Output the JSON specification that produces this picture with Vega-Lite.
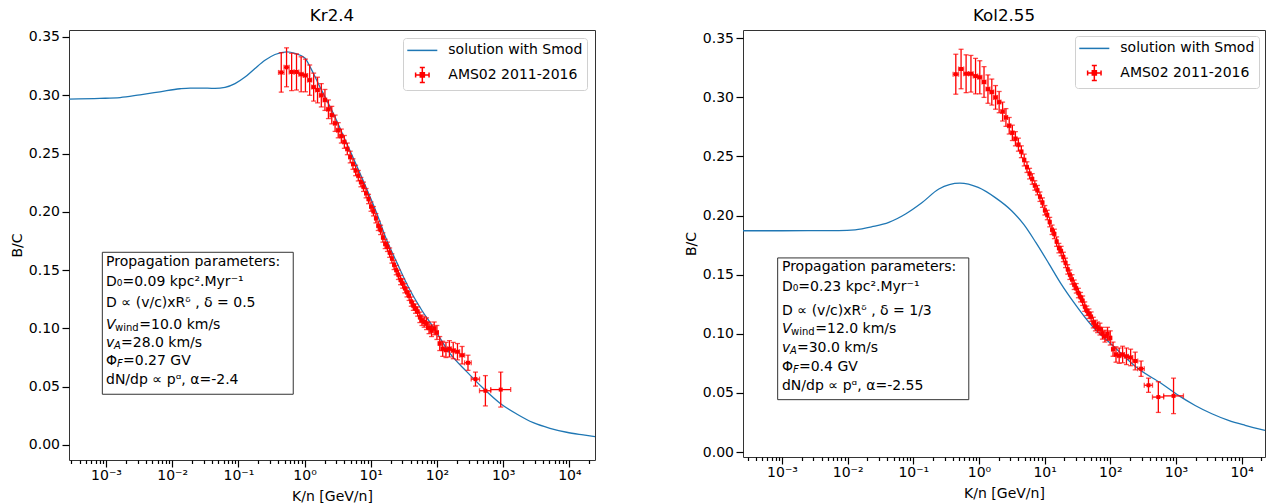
{
  "$schema": "https://vega.github.io/schema/vega-lite/v6.json",
  "padding": {"left": 9, "top": 7, "right": 0, "bottom": 0},
  "spacing": 84,
  "resolve": {"scale": {"x": "independent", "y": "independent", "color": "independent"}, "legend": {"color": "independent"}, "axis": {"x": "independent", "y": "independent"}},
  "config": {
    "font": "DejaVu Sans",
    "view": {"stroke": "#333333", "strokeWidth": 1},
    "axis": {"labelFont": "DejaVu Sans", "labelFontSize": 14, "labelColor": "#000000", "titleFont": "DejaVu Sans", "titleFontSize": 14, "titleFontWeight": "normal", "titleColor": "#000000", "tickColor": "#000000", "tickWidth": 1.2, "domain": false, "grid": false},
    "title": {"font": "DejaVu Sans", "fontSize": 16.7, "fontWeight": "normal", "color": "#000000", "anchor": "middle", "offset": 5.7, "baseline": "alphabetic"},
    "text": {"font": "DejaVu Sans", "color": "#000000"}
  },
  "datasets": {
    "ams": [
      {"E":0.444,"Elo":0.404,"Ehi":0.489,"bc":0.3196,"lo":0.3027,"hi":0.3365},
      {"E":0.534,"Elo":0.489,"Ehi":0.585,"bc":0.324,"lo":0.3073,"hi":0.3407},
      {"E":0.637,"Elo":0.585,"Ehi":0.694,"bc":0.320,"lo":0.304,"hi":0.336},
      {"E":0.755,"Elo":0.694,"Ehi":0.818,"bc":0.320,"lo":0.3045,"hi":0.3355},
      {"E":0.887,"Elo":0.818,"Ehi":0.956,"bc":0.318,"lo":0.303,"hi":0.333},
      {"E":1.030,"Elo":0.956,"Ehi":1.110,"bc":0.317,"lo":0.303,"hi":0.331},
      {"E":1.194,"Elo":1.110,"Ehi":1.280,"bc":0.313,"lo":0.300,"hi":0.326},
      {"E":1.371,"Elo":1.280,"Ehi":1.467,"bc":0.307,"lo":0.295,"hi":0.319},
      {"E":1.569,"Elo":1.467,"Ehi":1.676,"bc":0.3045,"lo":0.2935,"hi":0.3155},
      {"E":1.789,"Elo":1.676,"Ehi":1.906,"bc":0.300,"lo":0.290,"hi":0.310},
      {"E":2.029,"Elo":1.906,"Ehi":2.158,"bc":0.296,"lo":0.287,"hi":0.305},
      {"E":2.291,"Elo":2.158,"Ehi":2.430,"bc":0.288,"lo":0.280,"hi":0.296},
      {"E":2.575,"Elo":2.430,"Ehi":2.729,"bc":0.283,"lo":0.2755,"hi":0.2905},
      {"E":2.889,"Elo":2.729,"Ehi":3.054,"bc":0.276,"lo":0.269,"hi":0.283},
      {"E":3.224,"Elo":3.054,"Ehi":3.405,"bc":0.270,"lo":0.2635,"hi":0.2765},
      {"E":3.590,"Elo":3.405,"Ehi":3.786,"bc":0.265,"lo":0.259,"hi":0.271},
      {"E":3.987,"Elo":3.786,"Ehi":4.198,"bc":0.260,"lo":0.2545,"hi":0.2655},
      {"E":4.420,"Elo":4.198,"Ehi":4.641,"bc":0.254,"lo":0.249,"hi":0.259},
      {"E":4.888,"Elo":4.641,"Ehi":5.135,"bc":0.247,"lo":0.242,"hi":0.252},
      {"E":5.382,"Elo":5.135,"Ehi":5.629,"bc":0.241,"lo":0.2365,"hi":0.2455},
      {"E":5.902,"Elo":5.629,"Ehi":6.174,"bc":0.2355,"lo":0.231,"hi":0.240},
      {"E":6.472,"Elo":6.174,"Ehi":6.769,"bc":0.231,"lo":0.2265,"hi":0.2355},
      {"E":7.092,"Elo":6.769,"Ehi":7.415,"bc":0.2255,"lo":0.2215,"hi":0.2295},
      {"E":7.763,"Elo":7.415,"Ehi":8.111,"bc":0.2215,"lo":0.2175,"hi":0.2255},
      {"E":8.484,"Elo":8.111,"Ehi":8.857,"bc":0.216,"lo":0.212,"hi":0.220},
      {"E":9.255,"Elo":8.857,"Ehi":9.654,"bc":0.211,"lo":0.207,"hi":0.215},
      {"E":10.08,"Elo":9.654,"Ehi":10.50,"bc":0.2045,"lo":0.2005,"hi":0.2085},
      {"E":10.97,"Elo":10.50,"Ehi":11.45,"bc":0.2005,"lo":0.1965,"hi":0.2045},
      {"E":11.95,"Elo":11.45,"Ehi":12.44,"bc":0.1945,"lo":0.1905,"hi":0.1985},
      {"E":12.97,"Elo":12.44,"Ehi":13.49,"bc":0.188,"lo":0.184,"hi":0.192},
      {"E":14.07,"Elo":13.49,"Ehi":14.64,"bc":0.1845,"lo":0.1805,"hi":0.1885},
      {"E":15.24,"Elo":14.64,"Ehi":15.84,"bc":0.178,"lo":0.174,"hi":0.182},
      {"E":16.49,"Elo":15.84,"Ehi":17.14,"bc":0.1725,"lo":0.1685,"hi":0.1765},
      {"E":17.84,"Elo":17.14,"Ehi":18.53,"bc":0.170,"lo":0.166,"hi":0.174},
      {"E":19.28,"Elo":18.53,"Ehi":20.03,"bc":0.165,"lo":0.161,"hi":0.169},
      {"E":20.83,"Elo":20.03,"Ehi":21.63,"bc":0.160,"lo":0.156,"hi":0.164},
      {"E":22.48,"Elo":21.63,"Ehi":23.33,"bc":0.1545,"lo":0.1505,"hi":0.1585},
      {"E":24.23,"Elo":23.33,"Ehi":25.18,"bc":0.150,"lo":0.146,"hi":0.154},
      {"E":26.13,"Elo":25.18,"Ehi":27.13,"bc":0.146,"lo":0.142,"hi":0.150},
      {"E":28.18,"Elo":27.13,"Ehi":29.23,"bc":0.1415,"lo":0.1375,"hi":0.1455},
      {"E":30.33,"Elo":29.23,"Ehi":31.48,"bc":0.1385,"lo":0.1345,"hi":0.1425},
      {"E":32.68,"Elo":31.48,"Ehi":33.92,"bc":0.1345,"lo":0.1305,"hi":0.1385},
      {"E":35.23,"Elo":33.92,"Ehi":36.52,"bc":0.131,"lo":0.127,"hi":0.135},
      {"E":37.93,"Elo":36.52,"Ehi":39.32,"bc":0.128,"lo":0.124,"hi":0.132},
      {"E":40.82,"Elo":39.32,"Ehi":42.32,"bc":0.123,"lo":0.119,"hi":0.127},
      {"E":43.92,"Elo":42.32,"Ehi":45.57,"bc":0.1195,"lo":0.1155,"hi":0.1235},
      {"E":47.32,"Elo":45.57,"Ehi":49.07,"bc":0.117,"lo":0.113,"hi":0.121},
      {"E":51.07,"Elo":49.07,"Ehi":53.07,"bc":0.1145,"lo":0.1105,"hi":0.1185},
      {"E":55.07,"Elo":53.07,"Ehi":57.07,"bc":0.1095,"lo":0.105,"hi":0.114},
      {"E":59.32,"Elo":57.07,"Ehi":61.57,"bc":0.107,"lo":0.1025,"hi":0.1115},
      {"E":64.07,"Elo":61.57,"Ehi":66.57,"bc":0.1055,"lo":0.101,"hi":0.110},
      {"E":69.57,"Elo":66.57,"Ehi":72.57,"bc":0.104,"lo":0.099,"hi":0.109},
      {"E":75.82,"Elo":72.57,"Ehi":79.07,"bc":0.1005,"lo":0.0955,"hi":0.1055},
      {"E":82.82,"Elo":79.07,"Ehi":86.57,"bc":0.098,"lo":0.093,"hi":0.103},
      {"E":90.82,"Elo":86.57,"Ehi":95.07,"bc":0.100,"lo":0.0945,"hi":0.1055},
      {"E":99.82,"Elo":95.07,"Ehi":104.6,"bc":0.0965,"lo":0.0905,"hi":0.1025},
      {"E":110.1,"Elo":104.6,"Ehi":115.6,"bc":0.087,"lo":0.081,"hi":0.093},
      {"E":122.1,"Elo":115.6,"Ehi":128.6,"bc":0.0825,"lo":0.076,"hi":0.089},
      {"E":136.6,"Elo":128.6,"Ehi":144.6,"bc":0.0815,"lo":0.075,"hi":0.088},
      {"E":154.1,"Elo":144.6,"Ehi":164.1,"bc":0.0825,"lo":0.0755,"hi":0.0895},
      {"E":176.1,"Elo":164.1,"Ehi":188.6,"bc":0.081,"lo":0.074,"hi":0.088},
      {"E":204.1,"Elo":188.6,"Ehi":219.6,"bc":0.080,"lo":0.073,"hi":0.087},
      {"E":239.6,"Elo":219.6,"Ehi":261.6,"bc":0.077,"lo":0.0695,"hi":0.0845},
      {"E":294.1,"Elo":261.6,"Ehi":329.1,"bc":0.0705,"lo":0.064,"hi":0.077},
      {"E":381.6,"Elo":329.1,"Ehi":439.1,"bc":0.0565,"lo":0.0505,"hi":0.0625},
      {"E":539,"Elo":439.1,"Ehi":649.1,"bc":0.0465,"lo":0.0335,"hi":0.0595},
      {"E":919,"Elo":649.1,"Ehi":1299,"bc":0.0475,"lo":0.0325,"hi":0.0625}
    ],
    "kr": [
      {"E":0.000276,"bc":0.2967},{"E":0.00081,"bc":0.2973},{"E":0.00163,"bc":0.298},{"E":0.00327,"bc":0.3004},
      {"E":0.00655,"bc":0.303},{"E":0.0131,"bc":0.3056},{"E":0.0186,"bc":0.3062},{"E":0.0263,"bc":0.3062},
      {"E":0.0443,"bc":0.3059},{"E":0.0627,"bc":0.3068},{"E":0.0889,"bc":0.310},{"E":0.126,"bc":0.3156},
      {"E":0.178,"bc":0.323},{"E":0.252,"bc":0.330},{"E":0.357,"bc":0.335},{"E":0.542,"bc":0.3373},
      {"E":0.716,"bc":0.336},{"E":1.01,"bc":0.332},{"E":1.21,"bc":0.3244},{"E":1.71,"bc":0.307},
      {"E":2.71,"bc":0.2845},{"E":4.33,"bc":0.2587},{"E":6.87,"bc":0.233},{"E":12.3,"bc":0.1987},
      {"E":17.4,"bc":0.1758},{"E":25,"bc":0.156},{"E":39.1,"bc":0.1329},{"E":58.7,"bc":0.1158},
      {"E":87.9,"bc":0.101},{"E":157,"bc":0.0786},{"E":281,"bc":0.0629},{"E":500,"bc":0.0486},
      {"E":895,"bc":0.0358},{"E":1600,"bc":0.0266},{"E":2850,"bc":0.0191},{"E":5090,"bc":0.0143},
      {"E":9100,"bc":0.0109},{"E":16200,"bc":0.0086},{"E":24400,"bc":0.0071}
    ],
    "kol": [
      {"E":0.000255,"bc":0.1872},{"E":0.001,"bc":0.1872},{"E":0.00733,"bc":0.1873},{"E":0.013,"bc":0.188},
      {"E":0.0235,"bc":0.1906},{"E":0.0424,"bc":0.1943},{"E":0.0762,"bc":0.2014},{"E":0.1365,"bc":0.2111},
      {"E":0.245,"bc":0.2225},{"E":0.512,"bc":0.2275},{"E":0.973,"bc":0.2238},{"E":1.75,"bc":0.2154},
      {"E":3.14,"bc":0.2041},{"E":4.84,"bc":0.1923},{"E":7.38,"bc":0.1771},{"E":11.6,"bc":0.1594},
      {"E":17.7,"bc":0.1425},{"E":28,"bc":0.1264},{"E":52.1,"bc":0.107},{"E":105,"bc":0.091},
      {"E":267,"bc":0.0704},{"E":608,"bc":0.0578},{"E":1090,"bc":0.0479},{"E":1960,"bc":0.0394},
      {"E":3520,"bc":0.0324},{"E":6300,"bc":0.0268},{"E":11300,"bc":0.0226},{"E":22700,"bc":0.0183}
    ]
  },
  "hconcat": [
    {
      "width": 526, "height": 430,
      "title": {"text": "Kr2.4"},
      "layer": [
        {"data": {"values": [{"x1": 0.00088, "x2": 0.674, "y1": 0.0435, "y2": 0.1653}]},
         "mark": {"type": "rect", "fill": "#ffffff", "stroke": "#333333", "strokeWidth": 1},
         "encoding": {
           "x": {"field": "x1", "type": "quantitative", "scale": {"type": "log", "domain": [0.000276, 24400], "nice": false},
                 "axis": {"title": "K/n [GeV/n]", "values": [0.0003,0.0004,0.0005,0.0006,0.0007,0.0008,0.0009,0.001,0.002,0.003,0.004,0.005,0.006,0.007,0.008,0.009,0.01,0.02,0.03,0.04,0.05,0.06,0.07,0.08,0.09,0.1,0.2,0.3,0.4,0.5,0.6,0.7,0.8,0.9,1,2,3,4,5,6,7,8,9,10,20,30,40,50,60,70,80,90,100,200,300,400,500,600,700,800,900,1000,2000,3000,4000,5000,6000,7000,8000,9000,10000,20000],
                          "labelExpr": "abs(log(datum.value)/LN10-round(log(datum.value)/LN10))<0.001 ? ['10⁻⁴','10⁻³','10⁻²','10⁻¹','10⁰','10¹','10²','10³','10⁴'][round(log(datum.value)/LN10)+4] : ''",
                          "tickSize": {"condition": {"test": "abs(log(datum.value)/LN10-round(log(datum.value)/LN10))<0.001", "value": 7}, "value": 3.5},
                          "labelPadding": 1, "titlePadding": 7, "labelFlush": false, "labelOverlap": false, "labelBound": false}},
           "x2": {"field": "x2"},
           "y": {"field": "y1", "type": "quantitative", "scale": {"domain": [-0.0129, 0.356], "nice": false, "zero": false},
                 "axis": {"title": "B/C", "values": [0,0.05,0.1,0.15,0.2,0.25,0.3,0.35], "format": ".2f", "tickSize": 7, "labelPadding": 2.5, "titlePadding": 4, "labelOverlap": false}},
           "y2": {"field": "y2"}}},
        {"data": {"name": "kr"},
         "mark": {"type": "line", "strokeWidth": 1.3, "interpolate": "monotone"},
         "encoding": {
           "x": {"field": "E", "type": "quantitative"},
           "y": {"field": "bc", "type": "quantitative"},
           "color": {"datum": "solution with Smod", "scale": {"domain": ["solution with Smod", "AMS02 2011-2016"], "range": ["#1f77b4", "#ff0000"]},
                     "legend": {"title": null, "orient": "top-right", "offset": 7.7, "padding": 4.4, "rowPadding": 6.5, "symbolSize": 196, "labelOffset": 24.9,
                                "labelFont": "DejaVu Sans", "labelFontSize": 14, "labelColor": "#000000", "labelLimit": 300,
                                "strokeColor": "#d0d0d0", "fillColor": "#ffffff", "cornerRadius": 3, "symbolStrokeWidth": 1.5,
                                "encode": {"symbols": {"update": {
                                  "shape": {"signal": "datum.value === 'solution with Smod' ? 'M-1.16,0H3.13' : 'M0.03,0H1.95M0.99,-1.07V1.07M0.03,-0.36V0.36M1.95,-0.36V0.36M0.63,-1.07H1.35M0.63,1.07H1.35M0.7,-0.29H1.28V0.29H0.7Z'"},
                                  "stroke": {"signal": "datum.value === 'solution with Smod' ? '#1f77b4' : '#ff0000'"},
                                  "fill": {"signal": "datum.value === 'solution with Smod' ? 'transparent' : '#ff0000'"},
                                  "strokeWidth": {"value": 1.5}, "opacity": {"value": 1}, "fillOpacity": {"value": 1}, "strokeOpacity": {"value": 1}}}}}}}},
        {"data": {"name": "ams"}, "mark": {"type": "rule", "color": "#ff0000", "strokeWidth": 1.3},
         "encoding": {"x": {"field": "E", "type": "quantitative"}, "y": {"field": "lo", "type": "quantitative"}, "y2": {"field": "hi"}}},
        {"data": {"name": "ams"}, "mark": {"type": "rule", "color": "#ff0000", "strokeWidth": 1.3},
         "encoding": {"x": {"field": "Elo", "type": "quantitative"}, "x2": {"field": "Ehi"}, "y": {"field": "bc", "type": "quantitative"}}},
        {"data": {"name": "ams"}, "mark": {"type": "tick", "color": "#ff0000", "orient": "horizontal", "size": 5, "thickness": 1.3},
         "encoding": {"x": {"field": "E", "type": "quantitative"}, "y": {"field": "lo", "type": "quantitative"}}},
        {"data": {"name": "ams"}, "mark": {"type": "tick", "color": "#ff0000", "orient": "horizontal", "size": 5, "thickness": 1.3},
         "encoding": {"x": {"field": "E", "type": "quantitative"}, "y": {"field": "hi", "type": "quantitative"}}},
        {"data": {"name": "ams"}, "mark": {"type": "tick", "color": "#ff0000", "orient": "vertical", "size": 5, "thickness": 1.3},
         "encoding": {"x": {"field": "Elo", "type": "quantitative"}, "y": {"field": "bc", "type": "quantitative"}}},
        {"data": {"name": "ams"}, "mark": {"type": "tick", "color": "#ff0000", "orient": "vertical", "size": 5, "thickness": 1.3},
         "encoding": {"x": {"field": "Ehi", "type": "quantitative"}, "y": {"field": "bc", "type": "quantitative"}}},
        {"data": {"name": "ams"}, "mark": {"type": "point", "shape": "square", "filled": true, "size": 16, "opacity": 1},
         "encoding": {"x": {"field": "E", "type": "quantitative"}, "y": {"field": "bc", "type": "quantitative"},
                      "color": {"datum": "AMS02 2011-2016", "legend": null}}},
        {"data": {"values": [
            {"x": 0.001, "y": 0.1572, "t": "Propagation parameters:"},
            {"x": 0.001, "y": 0.1401, "t": "D₀=0.09 kpc².Myr⁻¹"},
            {"x": 0.001, "y": 0.1215, "t": "D ∝ (v/c)xRᵟ , δ = 0.5"},
            {"x": 0.001, "y": 0.0720, "t": "Φ"},
            {"x": 0.001, "y": 0.0557, "t": "dN/dp ∝ pᵅ, α=-2.4"}]},
         "mark": {"type": "text", "align": "left", "baseline": "middle", "fontSize": 14},
         "encoding": {"x": {"field": "x", "type": "quantitative"}, "y": {"field": "y", "type": "quantitative"}, "text": {"field": "t"}}},
        {"data": {"values": [{"x": 0.001, "y": 0.1029, "t": "V"}, {"x": 0.001, "y": 0.0877, "t": "v"}]},
         "mark": {"type": "text", "align": "left", "baseline": "middle", "fontSize": 14, "fontStyle": "italic"},
         "encoding": {"x": {"field": "x", "type": "quantitative"}, "y": {"field": "y", "type": "quantitative"}, "text": {"field": "t"}}},
        {"data": {"values": [{"x": 0.001, "y": 0.1029, "t": "wind"}]},
         "mark": {"type": "text", "align": "left", "baseline": "middle", "fontSize": 10, "dx": 9, "dy": 3},
         "encoding": {"x": {"field": "x", "type": "quantitative"}, "y": {"field": "y", "type": "quantitative"}, "text": {"field": "t"}}},
        {"data": {"values": [{"x": 0.001, "y": 0.0877, "t": "A"}]},
         "mark": {"type": "text", "align": "left", "baseline": "middle", "fontSize": 10, "fontStyle": "italic", "dx": 8, "dy": 3},
         "encoding": {"x": {"field": "x", "type": "quantitative"}, "y": {"field": "y", "type": "quantitative"}, "text": {"field": "t"}}},
        {"data": {"values": [{"x": 0.001, "y": 0.0720, "t": "F"}]},
         "mark": {"type": "text", "align": "left", "baseline": "middle", "fontSize": 10, "fontStyle": "italic", "dx": 11, "dy": 3},
         "encoding": {"x": {"field": "x", "type": "quantitative"}, "y": {"field": "y", "type": "quantitative"}, "text": {"field": "t"}}},
        {"data": {"values": [{"x": 0.001, "y": 0.1029, "t": "=10.0 km/s"}]},
         "mark": {"type": "text", "align": "left", "baseline": "middle", "fontSize": 14, "dx": 33.3},
         "encoding": {"x": {"field": "x", "type": "quantitative"}, "y": {"field": "y", "type": "quantitative"}, "text": {"field": "t"}}},
        {"data": {"values": [{"x": 0.001, "y": 0.0877, "t": "=28.0 km/s"}]},
         "mark": {"type": "text", "align": "left", "baseline": "middle", "fontSize": 14, "dx": 15},
         "encoding": {"x": {"field": "x", "type": "quantitative"}, "y": {"field": "y", "type": "quantitative"}, "text": {"field": "t"}}},
        {"data": {"values": [{"x": 0.001, "y": 0.0720, "t": "=0.27 GV"}]},
         "mark": {"type": "text", "align": "left", "baseline": "middle", "fontSize": 14, "dx": 17},
         "encoding": {"x": {"field": "x", "type": "quantitative"}, "y": {"field": "y", "type": "quantitative"}, "text": {"field": "t"}}}
      ]
    },
    {
      "width": 522, "height": 427,
      "title": {"text": "Kol2.55"},
      "layer": [
        {"data": {"values": [{"x1": 0.00086, "x2": 0.70, "y1": 0.0443, "y2": 0.1642}]},
         "mark": {"type": "rect", "fill": "#ffffff", "stroke": "#333333", "strokeWidth": 1},
         "encoding": {
           "x": {"field": "x1", "type": "quantitative", "scale": {"type": "log", "domain": [0.000255, 22700], "nice": false},
                 "axis": {"title": "K/n [GeV/n]", "values": [0.0003,0.0004,0.0005,0.0006,0.0007,0.0008,0.0009,0.001,0.002,0.003,0.004,0.005,0.006,0.007,0.008,0.009,0.01,0.02,0.03,0.04,0.05,0.06,0.07,0.08,0.09,0.1,0.2,0.3,0.4,0.5,0.6,0.7,0.8,0.9,1,2,3,4,5,6,7,8,9,10,20,30,40,50,60,70,80,90,100,200,300,400,500,600,700,800,900,1000,2000,3000,4000,5000,6000,7000,8000,9000,10000,20000],
                          "labelExpr": "abs(log(datum.value)/LN10-round(log(datum.value)/LN10))<0.001 ? ['10⁻⁴','10⁻³','10⁻²','10⁻¹','10⁰','10¹','10²','10³','10⁴'][round(log(datum.value)/LN10)+4] : ''",
                          "tickSize": {"condition": {"test": "abs(log(datum.value)/LN10-round(log(datum.value)/LN10))<0.001", "value": 7}, "value": 3.5},
                          "labelPadding": 1, "titlePadding": 7, "labelFlush": false, "labelOverlap": false, "labelBound": false}},
           "x2": {"field": "x2"},
           "y": {"field": "y1", "type": "quantitative", "scale": {"domain": [-0.0042, 0.357], "nice": false, "zero": false},
                 "axis": {"title": "B/C", "values": [0,0.05,0.1,0.15,0.2,0.25,0.3,0.35], "format": ".2f", "tickSize": 7, "labelPadding": 2.5, "titlePadding": 4, "labelOverlap": false}},
           "y2": {"field": "y2"}}},
        {"data": {"name": "kol"},
         "mark": {"type": "line", "strokeWidth": 1.3, "interpolate": "monotone"},
         "encoding": {
           "x": {"field": "E", "type": "quantitative"},
           "y": {"field": "bc", "type": "quantitative"},
           "color": {"datum": "solution with Smod", "scale": {"domain": ["solution with Smod", "AMS02 2011-2016"], "range": ["#1f77b4", "#ff0000"]},
                     "legend": {"title": null, "orient": "top-right", "offset": 6, "padding": 4.4, "rowPadding": 6.5, "symbolSize": 196, "labelOffset": 24.9,
                                "labelFont": "DejaVu Sans", "labelFontSize": 14, "labelColor": "#000000", "labelLimit": 300,
                                "strokeColor": "#d0d0d0", "fillColor": "#ffffff", "cornerRadius": 3, "symbolStrokeWidth": 1.5,
                                "encode": {"symbols": {"update": {
                                  "shape": {"signal": "datum.value === 'solution with Smod' ? 'M-1.16,0H3.13' : 'M0.03,0H1.95M0.99,-1.07V1.07M0.03,-0.36V0.36M1.95,-0.36V0.36M0.63,-1.07H1.35M0.63,1.07H1.35M0.7,-0.29H1.28V0.29H0.7Z'"},
                                  "stroke": {"signal": "datum.value === 'solution with Smod' ? '#1f77b4' : '#ff0000'"},
                                  "fill": {"signal": "datum.value === 'solution with Smod' ? 'transparent' : '#ff0000'"},
                                  "strokeWidth": {"value": 1.5}, "opacity": {"value": 1}, "fillOpacity": {"value": 1}, "strokeOpacity": {"value": 1}}}}}}}},
        {"data": {"name": "ams"}, "mark": {"type": "rule", "color": "#ff0000", "strokeWidth": 1.3},
         "encoding": {"x": {"field": "E", "type": "quantitative"}, "y": {"field": "lo", "type": "quantitative"}, "y2": {"field": "hi"}}},
        {"data": {"name": "ams"}, "mark": {"type": "rule", "color": "#ff0000", "strokeWidth": 1.3},
         "encoding": {"x": {"field": "Elo", "type": "quantitative"}, "x2": {"field": "Ehi"}, "y": {"field": "bc", "type": "quantitative"}}},
        {"data": {"name": "ams"}, "mark": {"type": "tick", "color": "#ff0000", "orient": "horizontal", "size": 5, "thickness": 1.3},
         "encoding": {"x": {"field": "E", "type": "quantitative"}, "y": {"field": "lo", "type": "quantitative"}}},
        {"data": {"name": "ams"}, "mark": {"type": "tick", "color": "#ff0000", "orient": "horizontal", "size": 5, "thickness": 1.3},
         "encoding": {"x": {"field": "E", "type": "quantitative"}, "y": {"field": "hi", "type": "quantitative"}}},
        {"data": {"name": "ams"}, "mark": {"type": "tick", "color": "#ff0000", "orient": "vertical", "size": 5, "thickness": 1.3},
         "encoding": {"x": {"field": "Elo", "type": "quantitative"}, "y": {"field": "bc", "type": "quantitative"}}},
        {"data": {"name": "ams"}, "mark": {"type": "tick", "color": "#ff0000", "orient": "vertical", "size": 5, "thickness": 1.3},
         "encoding": {"x": {"field": "Ehi", "type": "quantitative"}, "y": {"field": "bc", "type": "quantitative"}}},
        {"data": {"name": "ams"}, "mark": {"type": "point", "shape": "square", "filled": true, "size": 16, "opacity": 1},
         "encoding": {"x": {"field": "E", "type": "quantitative"}, "y": {"field": "bc", "type": "quantitative"},
                      "color": {"datum": "AMS02 2011-2016", "legend": null}}},
        {"data": {"values": [
            {"x": 0.001, "y": 0.1563, "t": "Propagation parameters:"},
            {"x": 0.001, "y": 0.1394, "t": "D₀=0.23 kpc².Myr⁻¹"},
            {"x": 0.001, "y": 0.1197, "t": "D ∝ (v/c)xRᵟ , δ = 1/3"},
            {"x": 0.001, "y": 0.0718, "t": "Φ"},
            {"x": 0.001, "y": 0.0557, "t": "dN/dp ∝ pᵅ, α=-2.55"}]},
         "mark": {"type": "text", "align": "left", "baseline": "middle", "fontSize": 14},
         "encoding": {"x": {"field": "x", "type": "quantitative"}, "y": {"field": "y", "type": "quantitative"}, "text": {"field": "t"}}},
        {"data": {"values": [{"x": 0.001, "y": 0.1042, "t": "V"}, {"x": 0.001, "y": 0.0878, "t": "v"}]},
         "mark": {"type": "text", "align": "left", "baseline": "middle", "fontSize": 14, "fontStyle": "italic"},
         "encoding": {"x": {"field": "x", "type": "quantitative"}, "y": {"field": "y", "type": "quantitative"}, "text": {"field": "t"}}},
        {"data": {"values": [{"x": 0.001, "y": 0.1042, "t": "wind"}]},
         "mark": {"type": "text", "align": "left", "baseline": "middle", "fontSize": 10, "dx": 9, "dy": 3},
         "encoding": {"x": {"field": "x", "type": "quantitative"}, "y": {"field": "y", "type": "quantitative"}, "text": {"field": "t"}}},
        {"data": {"values": [{"x": 0.001, "y": 0.0878, "t": "A"}]},
         "mark": {"type": "text", "align": "left", "baseline": "middle", "fontSize": 10, "fontStyle": "italic", "dx": 8, "dy": 3},
         "encoding": {"x": {"field": "x", "type": "quantitative"}, "y": {"field": "y", "type": "quantitative"}, "text": {"field": "t"}}},
        {"data": {"values": [{"x": 0.001, "y": 0.0718, "t": "F"}]},
         "mark": {"type": "text", "align": "left", "baseline": "middle", "fontSize": 10, "fontStyle": "italic", "dx": 11, "dy": 3},
         "encoding": {"x": {"field": "x", "type": "quantitative"}, "y": {"field": "y", "type": "quantitative"}, "text": {"field": "t"}}},
        {"data": {"values": [{"x": 0.001, "y": 0.1042, "t": "=12.0 km/s"}]},
         "mark": {"type": "text", "align": "left", "baseline": "middle", "fontSize": 14, "dx": 33.3},
         "encoding": {"x": {"field": "x", "type": "quantitative"}, "y": {"field": "y", "type": "quantitative"}, "text": {"field": "t"}}},
        {"data": {"values": [{"x": 0.001, "y": 0.0878, "t": "=30.0 km/s"}]},
         "mark": {"type": "text", "align": "left", "baseline": "middle", "fontSize": 14, "dx": 15},
         "encoding": {"x": {"field": "x", "type": "quantitative"}, "y": {"field": "y", "type": "quantitative"}, "text": {"field": "t"}}},
        {"data": {"values": [{"x": 0.001, "y": 0.0718, "t": "=0.4 GV"}]},
         "mark": {"type": "text", "align": "left", "baseline": "middle", "fontSize": 14, "dx": 17},
         "encoding": {"x": {"field": "x", "type": "quantitative"}, "y": {"field": "y", "type": "quantitative"}, "text": {"field": "t"}}}
      ]
    }
  ]
}
